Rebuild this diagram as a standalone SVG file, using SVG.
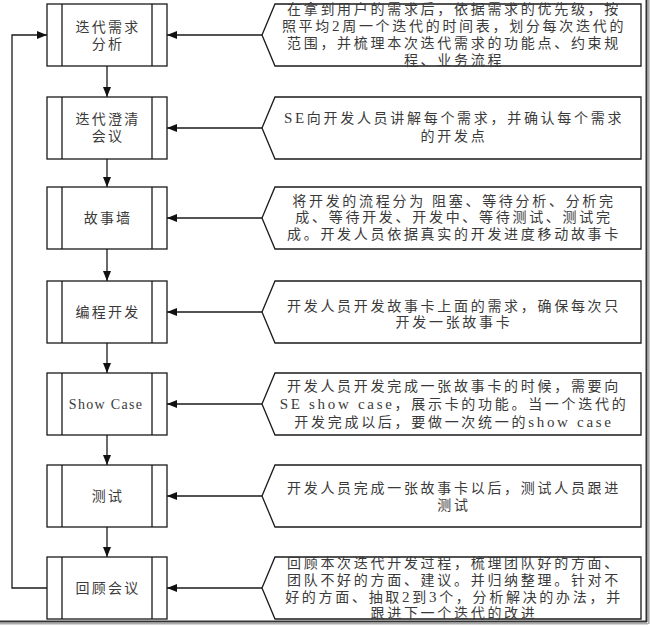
<svg xmlns="http://www.w3.org/2000/svg" width="650" height="627" viewBox="0 0 650 627">
<style>
.box{fill:#fff;stroke:#1a1a1a;stroke-width:1.3}
.div{stroke:#1a1a1a;stroke-width:1.3}
.t{font-family:"Liberation Serif","Noto Sans CJK SC",serif;font-size:14px;fill:#3a3a3a;text-anchor:middle;letter-spacing:2.7px}
.tl{font-family:"Liberation Serif","Noto Sans CJK SC",serif;font-size:14px;fill:#3a3a3a;text-anchor:middle;letter-spacing:2.2px}
.la{font-size:15px}
.c{fill:none;stroke:#1a1a1a;stroke-width:1.3}
</style>
<defs>
<marker id="ah" markerUnits="userSpaceOnUse" markerWidth="10" markerHeight="8" refX="10" refY="4" orient="auto">
<path d="M0,0 L10,4 L0,8 Z" fill="#111"/>
</marker>
</defs>
<rect width="650" height="627" fill="#fff"/>

<g id="frame">
<line x1="0" y1="621.5" x2="647" y2="621.5" stroke="#333" stroke-width="2"/>
<line x1="0" y1="623.8" x2="648" y2="623.8" stroke="#aaa" stroke-width="1.6"/>
<line x1="646.5" y1="0" x2="646.5" y2="622" stroke="#333" stroke-width="2"/>
<line x1="648.8" y1="0" x2="648.8" y2="624" stroke="#aaa" stroke-width="1.6"/>
</g>

<g id="connectors">
<path class="c" d="M262,35 L167,35" marker-end="url(#ah)"/>
<path class="c" d="M262,128 L167,128" marker-end="url(#ah)"/>
<path class="c" d="M262,218 L167,218" marker-end="url(#ah)"/>
<path class="c" d="M262,312 L167,312" marker-end="url(#ah)"/>
<path class="c" d="M262,404 L167,404" marker-end="url(#ah)"/>
<path class="c" d="M262,496 L167,496" marker-end="url(#ah)"/>
<path class="c" d="M262,588 L167,588" marker-end="url(#ah)"/>
<path class="c" d="M107,66 L107,97" marker-end="url(#ah)"/>
<path class="c" d="M107,159 L107,187" marker-end="url(#ah)"/>
<path class="c" d="M107,249 L107,281" marker-end="url(#ah)"/>
<path class="c" d="M107,343 L107,373" marker-end="url(#ah)"/>
<path class="c" d="M107,435 L107,465" marker-end="url(#ah)"/>
<path class="c" d="M107,527 L107,557" marker-end="url(#ah)"/>
<path class="c" d="M47,588 L12,588 L12,35 L47,35" marker-end="url(#ah)"/>
</g>

<g id="n1">
<rect class="box" x="47" y="4" width="120" height="62"/>
<line class="div" x1="62" y1="4" x2="62" y2="66"/><line class="div" x1="152" y1="4" x2="152" y2="66"/>
<text class="tl" x="108" y="32">迭代需求</text>
<text class="tl" x="108" y="49">分析</text>
</g>
<g id="n2">
<rect class="box" x="47" y="97" width="120" height="62"/>
<line class="div" x1="62" y1="97" x2="62" y2="159"/><line class="div" x1="152" y1="97" x2="152" y2="159"/>
<text class="tl" x="108" y="124">迭代澄清</text>
<text class="tl" x="108" y="141">会议</text>
</g>
<g id="n3">
<rect class="box" x="47" y="187" width="120" height="62"/>
<line class="div" x1="62" y1="187" x2="62" y2="249"/><line class="div" x1="152" y1="187" x2="152" y2="249"/>
<text class="tl" x="108" y="223">故事墙</text>
</g>
<g id="n4">
<rect class="box" x="47" y="281" width="120" height="62"/>
<line class="div" x1="62" y1="281" x2="62" y2="343"/><line class="div" x1="152" y1="281" x2="152" y2="343"/>
<text class="tl" x="108" y="317">编程开发</text>
</g>
<g id="n5">
<rect class="box" x="47" y="373" width="120" height="62"/>
<line class="div" x1="62" y1="373" x2="62" y2="435"/><line class="div" x1="152" y1="373" x2="152" y2="435"/>
<text class="tl" x="106" y="409" style="letter-spacing:1.3px">Show Case</text>
</g>
<g id="n6">
<rect class="box" x="47" y="465" width="120" height="62"/>
<line class="div" x1="62" y1="465" x2="62" y2="527"/><line class="div" x1="152" y1="465" x2="152" y2="527"/>
<text class="tl" x="108" y="501">测试</text>
</g>
<g id="n7">
<rect class="box" x="47" y="557" width="120" height="62"/>
<line class="div" x1="62" y1="557" x2="62" y2="619"/><line class="div" x1="152" y1="557" x2="152" y2="619"/>
<text class="tl" x="108" y="593">回顾会议</text>
</g>

<g id="d1">
<path class="box" d="M262,35 L275,4 L641,4 L641,66 L275,66 Z"/>
<text class="t" x="454" y="14">在拿到用户的需求后，依据需求的优先级，按</text>
<text class="t" x="454" y="31">照平均<tspan class="la">2</tspan>周一个迭代的时间表，划分每次迭代的</text>
<text class="t" x="454" y="48">范围，并梳理本次迭代需求的功能点、约束规</text>
<text class="t" x="454" y="65">程、业务流程</text>
</g>
<g id="d2">
<path class="box" d="M262,128 L275,97 L641,97 L641,159 L275,159 Z"/>
<text class="t" x="454" y="123"><tspan class="la">SE</tspan>向开发人员讲解每个需求，并确认每个需求</text>
<text class="t" x="454" y="141">的开发点</text>
</g>
<g id="d3">
<path class="box" d="M262,218 L275,187 L641,187 L641,249 L275,249 Z"/>
<text class="t" x="454" y="206">将开发的流程分为 阻塞、等待分析、分析完</text>
<text class="t" x="454" y="222">成、等待开发、开发中、等待测试、测试完</text>
<text class="t" x="454" y="239">成。开发人员依据真实的开发进度移动故事卡</text>
</g>
<g id="d4">
<path class="box" d="M262,312 L275,281 L641,281 L641,343 L275,343 Z"/>
<text class="t" x="454" y="311">开发人员开发故事卡上面的需求，确保每次只</text>
<text class="t" x="454" y="327">开发一张故事卡</text>
</g>
<g id="d5">
<path class="box" d="M262,404 L275,373 L641,373 L641,435 L275,435 Z"/>
<text class="t" x="454" y="391">开发人员开发完成一张故事卡的时候，需要向</text>
<text class="t" x="454" y="409"><tspan class="la">SE show case</tspan>，展示卡的功能。当一个迭代的</text>
<text class="t" x="454" y="427">开发完成以后，要做一次统一的<tspan class="la">show case</tspan></text>
</g>
<g id="d6">
<path class="box" d="M262,496 L275,465 L641,465 L641,527 L275,527 Z"/>
<text class="t" x="454" y="493">开发人员完成一张故事卡以后，测试人员跟进</text>
<text class="t" x="454" y="510">测试</text>
</g>
<g id="d7">
<path class="box" d="M262,588 L275,557 L641,557 L641,619 L275,619 Z"/>
<text class="t" x="454" y="568">回顾本次迭代开发过程，梳理团队好的方面、</text>
<text class="t" x="454" y="585">团队不好的方面、建议。并归纳整理。针对不</text>
<text class="t" x="454" y="602">好的方面、抽取<tspan class="la">2</tspan>到<tspan class="la">3</tspan>个，分析解决的办法，并</text>
<text class="t" x="454" y="618">跟进下一个迭代的改进</text>
</g>
</svg>
